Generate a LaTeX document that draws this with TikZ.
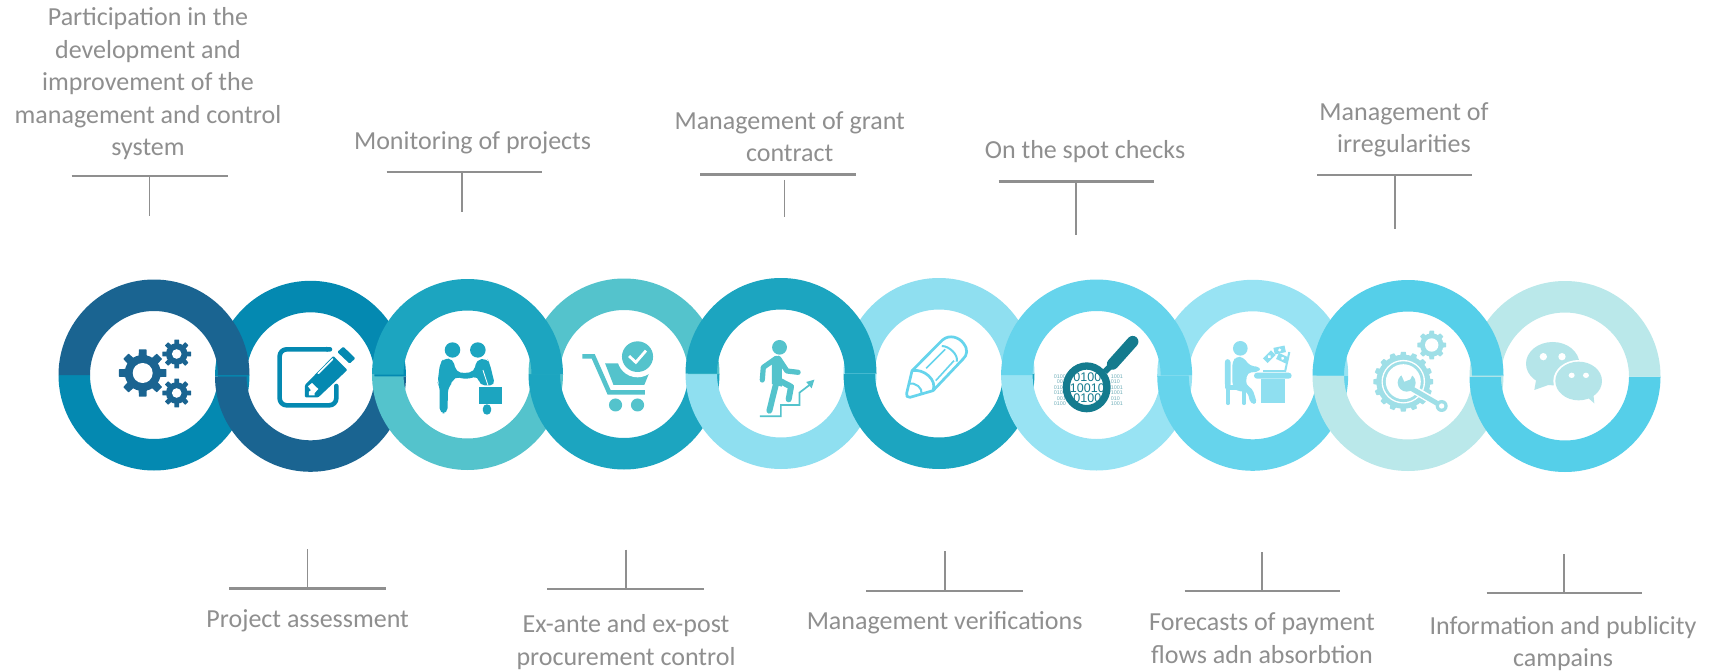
\documentclass[tikz,border=0pt]{standalone}
\usepackage{fontspec}
\setmainfont{Carlito}
\newfontfamily\binfont{Liberation Sans}
\definecolor{cA}{HTML}{1A6491}
\definecolor{cB}{HTML}{0489B1}
\definecolor{cC}{HTML}{1CA5C0}
\definecolor{cD}{HTML}{54C3CC}
\definecolor{cE}{HTML}{8FDFF0}
\definecolor{cF}{HTML}{66D4EC}
\definecolor{cG}{HTML}{98E3F3}
\definecolor{cH}{HTML}{55CFE9}
\definecolor{cI}{HTML}{BAE8EA}
\definecolor{cMag}{HTML}{147B8E}
\definecolor{cWr}{HTML}{9FDFE7}
\definecolor{cChat}{HTML}{B5E5E9}
\definecolor{cGray}{HTML}{8F8F8F}
\definecolor{cLine}{HTML}{8F8F8F}
\tikzset{
  label text/.style={font=\fontsize{26}{32.5}\selectfont,text=cGray,align=center,inner sep=0pt,anchor=base},
  top bar/.style={draw=cLine,line width=2.4pt},
  stem/.style={draw=cLine,line width=1.8pt},
  round line/.style={line cap=round,line join=round},
}
\newcommand{\halfring}[5]{% cx cy top/bottom-end-angle colour
  \fill[#4] (#1-95.5,#2) arc[start angle=180,end angle=#3,radius=95.5]
     -- (#1+64,#2) arc[start angle=#3,end angle=180,radius=64] -- cycle;}
\newcommand{\gearicon}[7]{% cx cy rbody rtip hole n colour
  \begin{scope}[shift={(#1,#2)}]
    \fill[#7] (0,0) circle[radius=#3];
    \pgfmathsetmacro{\gstep}{360/#6}
    \pgfmathsetmacro{\dA}{\gstep*0.30}
    \pgfmathsetmacro{\dB}{\gstep*0.20}
    \foreach \k in {1,...,#6}{
      \pgfmathsetmacro{\ga}{\k*\gstep}
      \fill[#7,rounded corners=0.4pt] (\ga-\dA:#3-0.5) -- (\ga-\dB:#4) -- (\ga+\dB:#4) -- (\ga+\dA:#3-0.5) -- cycle;
    }
    \fill[white] (0,0) circle[radius=#5];
  \end{scope}}
\newcommand{\tbar}[7]{% name x1 x2 y stemx y1 y2
  \coordinate (#1L) at (#2,#4);\coordinate (#1R) at (#3,#4);
  \coordinate (#1S) at (#5,#6);\coordinate (#1E) at (#5,#7);
  \draw[top bar] (#1L) -- (#1R);
  \draw[stem] (#1S) -- (#1E);}
\begin{document}
\begin{tikzpicture}[x=1pt,y=-1pt]
\useasboundingbox (0,0) rectangle (1712,671);
\fill[white] (0,0) rectangle (1712,671);
% lower halves, left to right
\halfring{154}{375}{0}{cB}{}
\halfring{310.5}{376.3}{0}{cA}{}
\halfring{467.5}{374.5}{0}{cD}{}
\halfring{624}{374}{0}{cC}{}
\halfring{781}{373.5}{0}{cE}{}
\halfring{939}{373.5}{0}{cC}{}
\halfring{1096.6}{375}{0}{cG}{}
\halfring{1252.7}{375.3}{0}{cF}{}
\halfring{1408}{375.5}{0}{cI}{}
\halfring{1565}{376.5}{0}{cH}{}
% upper halves: even rings below odd rings
\halfring{310.5}{376.3}{360}{cB}{}
\halfring{624}{374}{360}{cD}{}
\halfring{939}{373.5}{360}{cE}{}
\halfring{1252.7}{375.3}{360}{cG}{}
\halfring{1565}{376.5}{360}{cI}{}
\halfring{154}{375}{360}{cA}{}
\halfring{467.5}{374.5}{360}{cC}{}
\halfring{781}{373.5}{360}{cC}{}
\halfring{1096.6}{375}{360}{cF}{}
\halfring{1408}{375.5}{360}{cH}{}
% --- icon 1: gears
\gearicon{142.7}{373}{18}{24}{10}{8}{cA}
\gearicon{176.7}{354}{10.8}{14.6}{4.8}{8}{cA}
\gearicon{176.7}{393}{10.8}{14.6}{4.8}{8}{cA}
% --- icon 2: edit
\begin{scope}[shift={(100,320)},x=0.3333pt,y=-0.3333pt]
  \draw[cB,line width=4.6pt,round line,rounded corners=7pt] (690,88) -- (539,88) -- (539,256) -- (709,256) -- (709,198);
  \fill[cB] (680,80) -- (694,88) -- (680,96) -- cycle;
  \fill[cB,rounded corners=1pt] (615,195) -- (700,108) -- (742,150) -- (655,232) -- (615,232) -- cycle;
  \fill[cB,rounded corners=1pt] (712,96) -- (730,80) -- (766,115) -- (749,131) -- cycle;
  \draw[white,line width=1.6pt,line cap=round] (655,160) -- (698,117);
  \fill[white] (624,199) -- (636,189) -- (655,207) -- (644,219) -- (644,226) -- (627,226) -- (627,215) -- (633,211) -- cycle;
\end{scope}
% --- icon 3: handshake
\begin{scope}[shift={(40,260)},x=0.3381pt,y=-0.3333pt]
  \fill[cC] (1220,270) circle[radius=23];
  \fill[cC] (1295,270) circle[radius=23];
  \fill[cC,rounded corners=5pt] (1183,310) -- (1195,295) -- (1222,297) -- (1230,335) -- (1252,340) -- (1285,335) -- (1290,300) -- (1322,295) -- (1330,310) -- (1346,376) -- (1300,376) -- (1296,348) -- (1262,358) -- (1225,350) -- (1218,370) -- (1207,382) -- (1205,460) -- (1182,460) -- (1182,378) -- (1176,368) -- cycle;
  \fill[cC] (1298,381) rectangle (1367,431);
  \fill[cC,rounded corners=4pt] (1310,433) -- (1334,433) -- (1334,464) -- (1310,464) -- cycle;
  \draw[white,line width=0.8pt] (1310,330) -- (1325,376);
  \draw[white,line width=0.8pt] (1296,378) -- (1368,378);
\end{scope}
% --- icon 4: cart
\begin{scope}[shift={(530,260)},x=0.3381pt,y=-0.3333pt]
  \draw[cD,line width=4.6pt,line join=miter] (155,289) -- (187,289) -- (234,397) -- (340,397);
  \fill[cD] (222,310) -- (352,310) -- (352,340) -- (338,375) -- (247,375) -- cycle;
  \fill[white] (318,292) circle[radius=60];
  \fill[cD] (253,435) circle[radius=19.5];
  \fill[cD] (318,435) circle[radius=19.5];
  \fill[cD] (318,290) circle[radius=46];
  \draw[white,line width=2.8pt] (293,288) -- (313,307) -- (343,272);
\end{scope}
% --- icon 5: walking man on stairs
\begin{scope}[shift={(530,260)},x=0.3381pt,y=-0.3333pt]
  \fill[cD] (738,262) circle[radius=22];
  \draw[cD,line width=5.2pt,round line] (728,295) -- (690,322) -- (687,360);
  \draw[cD,line width=5.2pt,round line] (735,295) -- (760,333) -- (793,337);
  \fill[cD] (715,302) -- (735,287) -- (745,310) -- (745,380) -- (715,372) -- cycle;
  \draw[cD,line width=6pt,round line] (728,370) -- (708,452);
  \draw[cD,line width=6pt,round line] (738,362) -- (772,380) -- (765,418);
  \draw[cD,line width=1.7pt] (680,469) -- (742,469) -- (742,435) -- (797,435) -- (797,398) -- (828,374);
  \fill[cD] (817,366) -- (841,359) -- (833,385) -- cycle;
\end{scope}
% --- icon 6: pencil
\begin{scope}[shift={(530,260)},x=0.3381pt,y=-0.3333pt]
  \draw[cF,line width=2.7pt,round line] (1114,400) -- (1130,332) -- (1220,240)
     .. controls (1240,222) and (1270,232) .. (1282,250)
     .. controls (1296,268) and (1294,285) .. (1280,298)
     -- (1192,392) -- (1124,412) .. controls (1116,413) and (1112,408) .. (1114,400) -- cycle;
  \draw[cF,line width=2.7pt] (1130,332) .. controls (1165,325) and (1205,360) .. (1192,392);
  \draw[cF,line width=2pt] (1120,372) .. controls (1140,365) and (1162,385) .. (1158,402);
  \draw[cF,line width=2pt] (1218,258) .. controls (1240,258) and (1268,285) .. (1262,305);
  \draw[cF,line width=1.6pt] (1172,325) -- (1228,268);
  \draw[cF,line width=1.6pt] (1200,362) -- (1254,302);
\end{scope}
% --- icon 7: magnifier and binary digits
\begin{scope}[shift={(1040,320)},x=0.3333pt,y=-0.3333pt]
  \foreach \n/\ty/\tl/\tr in {1/170/0100/1001,2/186/\ 001/010\ ,3/202/0100/1001,4/219/0100/1001,5/236/\ 001/010\ ,6/252/0100/1001}{
    \node[inner sep=0pt,anchor=east,font=\binfont\fontsize{5.4}{5.4}\selectfont,text=cMag!60] (binl\n) at (78,\ty) {\tl};
    \node[inner sep=0pt,anchor=west,font=\binfont\fontsize{5.4}{5.4}\selectfont,text=cMag!60] (binr\n) at (212,\ty) {\tr};
  }
  \foreach \n/\ty/\tm in {1/172/0100,2/205/10010,3/236/0100}{
    \node[inner sep=0pt,font=\binfont\fontsize{12.5}{12.5}\selectfont,text=cMag] (binm\n) at (142,\ty) {\tm};
  }
  \draw[cMag,line width=7.3pt] (140,202) ellipse[x radius=61,y radius=64];
  \draw[cMag,line width=6pt] (195,155) -- (212,138);
  \draw[cMag,line width=11.5pt,line cap=round] (218,132) -- (278,65);
\end{scope}
% --- icon 8: person at desk
\begin{scope}[shift={(1040,320)},x=0.3333pt,y=-0.3333pt]
  \fill[cE] (601,85) circle[radius=22];
  \fill[cE,rounded corners=2.5pt] (555,120) rectangle (572,200);
  \draw[cE,line width=5pt,round line] (564,125) -- (564,203) -- (618,203);
  \draw[cE,line width=3.5pt,round line] (564,205) -- (564,250);
  \draw[cE,line width=3.5pt,round line] (612,205) -- (612,250);
  \fill[cE,rounded corners=4pt] (577,125) -- (590,109) -- (610,112) -- (630,138) -- (660,140) -- (660,155) -- (622,158) -- (617,195) -- (637,205) -- (652,252) -- (632,252) -- (622,214) -- (590,214) -- (577,196) -- cycle;
  \fill[cE,rounded corners=3pt] (642,158) rectangle (755,176);
  \fill[cE] (663,176) rectangle (735,250);
  \fill[cE] (670,150) -- (735,150) -- (735,156) -- (670,156) -- cycle;
  \draw[cE,line width=2pt] (735,156) -- (748,96);
  \foreach \n/\bx/\by/\ba in {1/688/110/45,2/719/90/12,3/728/115/-25}{
    \begin{scope}[shift={(\bx,\by)},rotate=\ba]
      \fill[cE] (-17,-10) rectangle (17,10);
      \fill[white] (0,0) circle[radius=5];
    \end{scope}
  }
\end{scope}
% --- icon 9: gears and wrench
\gearicon{1431.7}{345}{11.7}{14.5}{6.7}{8}{cWr}
\gearicon{1403.3}{381.7}{27}{30}{21.8}{16}{cWr}
\fill[cWr] (1403.3,381.7) circle[radius=20.4];
\fill[white] (1403.3,381.7) circle[radius=17.5];
\begin{scope}[shift={(1340,320)},x=0.3333pt,y=-0.3333pt]
  \draw[white,line width=8pt] (215,205) -- (305,258);
  \fill[cWr] (200,188) circle[radius=27];
  \draw[cWr,line width=5pt] (205,200) -- (305,258);
  \fill[cWr] (305,258) circle[radius=18];
  \fill[white] (305,258) circle[radius=8];
  \fill[white] (193,185) -- (181,158) -- (220,158) -- (211,178) -- cycle;
\end{scope}
% --- icon 10: chat bubbles
\begin{scope}[shift={(1340,320)},x=0.3333pt,y=-0.3333pt]
  \fill[cChat] (638,131) ellipse[x radius=80,y radius=65];
  \fill[cChat] (590,170) -- (583,210) -- (625,195) -- cycle;
  \fill[white] (610,110) circle[radius=11];
  \fill[white] (666,110) circle[radius=11];
  \fill[white] (716,183) ellipse[x radius=76,y radius=63];
  \fill[cChat] (716,183) ellipse[x radius=70,y radius=58];
  \fill[cChat] (740,230) -- (763,250) -- (760,220) -- cycle;
  \fill[white] (695,166) ellipse[x radius=9,y radius=8];
  \fill[white] (738,166) ellipse[x radius=9,y radius=8];
\end{scope}
% --- connectors
\tbar{a}{71.6}{227.7}{176}{149.5}{176}{216}
\tbar{b}{386.5}{542.3}{172.3}{462}{172.3}{212}
\tbar{c}{700.2}{856.3}{174.7}{784.4}{180}{217.3}
\tbar{d}{998.7}{1154.3}{181.7}{1076}{181.7}{235.3}
\tbar{e}{1317}{1472}{175}{1395}{175}{229}
\tbar{f}{229.4}{385.5}{588.3}{307.5}{549}{588.3}
\tbar{g}{547.4}{704}{589}{626}{549.5}{589}
\tbar{h}{866}{1022.7}{591}{945}{551}{591}
\tbar{i}{1184.7}{1339.8}{591}{1262}{552}{591}
\tbar{j}{1486.5}{1642}{593}{1563.8}{554}{593}
% --- labels
\node[label text] (ta) at (148,156) {Participation in the\\development and\\improvement of the\\management and control\\system};
\node[label text] (tb) at (472.6,150) {Monitoring of projects};
\node[label text] (tc) at (789.7,162) {Management of grant\\contract};
\node[label text] (td) at (1085,159) {On the spot checks};
\node[label text] (te) at (1404,152.7) {Management of\\irregularities};
\node[label text] (tf) at (307.7,627) {Project assessment};
\node[label text] (tg) at (626,665) {Ex-ante and ex-post\\procurement control};
\node[label text] (th) at (944.6,629) {Management verifications};
\node[label text] (ti) at (1262,663) {Forecasts of payment\\flows adn absorbtion};
\node[label text] (tj) at (1563,666.7) {Information and publicity\\campains};
\end{tikzpicture}
\end{document}
